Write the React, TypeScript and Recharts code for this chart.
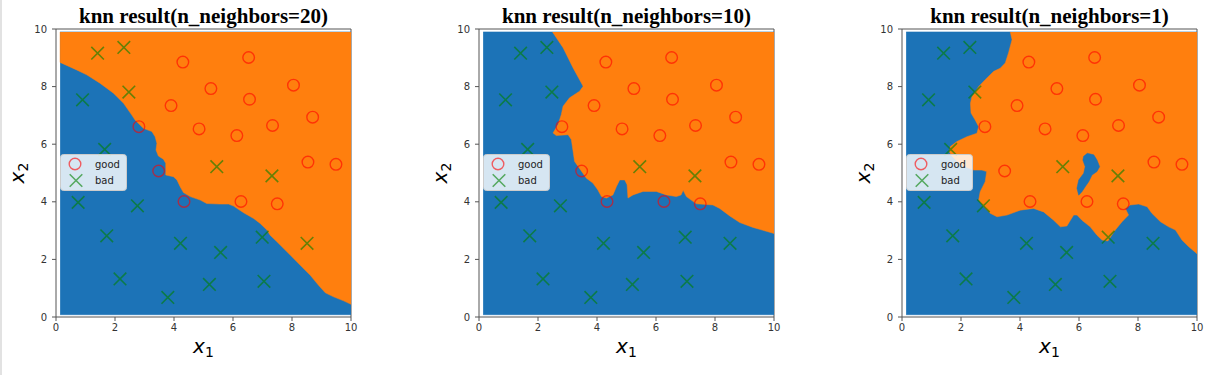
import React from "react";
import { ComposedChart, Scatter, XAxis, YAxis, Legend } from "recharts";

type Pair = [number, number];

// training samples
const goodX = [4.3, 6.53, 5.25, 8.05, 3.9, 6.56, 8.7, 2.81, 4.85, 7.34, 6.13, 3.48, 8.54, 9.49, 4.34, 6.27, 7.5];
const goodY = [8.85, 9.01, 7.93, 8.05, 7.34, 7.56, 6.94, 6.61, 6.53, 6.65, 6.3, 5.07, 5.38, 5.3, 4.01, 4.01, 3.93];
const badX = [1.41, 2.3, 0.9, 2.47, 1.65, 5.45, 7.32, 0.75, 2.76, 1.72, 4.22, 5.58, 6.99, 8.51, 2.17, 5.2, 7.05, 3.79];
const badY = [9.16, 9.36, 7.54, 7.81, 5.82, 5.22, 4.9, 3.98, 3.86, 2.82, 2.56, 2.24, 2.77, 2.56, 1.32, 1.13, 1.24, 0.68];

const ticks = [0, 2, 4, 6, 8, 10];
const neighbors = [20, 10, 1];
const panelLeft = [0, 423, 846];
const legendOrder = ["good", "bad"];

// extent of the predicted mesh
const meshBox: Pair[] = [[0.14, 0.08], [10, 0.08], [10, 9.9], [0.14, 9.9]];

// outline of the "good" (orange) region for each k
const goodRegionK20: Pair[] = [
  [0.14, 9.9], [0.14, 8.84], [0.7, 8.58], [1.04, 8.41], [1.49, 8.12], [1.95, 7.77], [2.29, 7.42],
  [2.57, 7.01], [2.68, 6.84], [2.96, 6.55], [3.25, 6.44], [3.36, 6.26], [3.42, 6.03], [3.39, 5.8],
  [3.47, 5.59], [3.64, 5.48], [3.72, 5.34], [3.72, 4.93], [3.98, 4.87], [4.1, 4.76], [4.21, 4.52],
  [4.32, 4.32], [4.55, 4.18], [4.89, 4.06], [5.11, 3.94], [5.57, 3.92], [5.85, 3.92], [6.02, 3.85],
  [6.36, 3.62], [6.7, 3.42], [6.92, 3.25], [7.15, 3.02], [7.26, 2.84], [7.49, 2.61], [7.94, 2.15],
  [8.28, 1.8], [8.62, 1.45], [8.9, 1.1], [9.13, 0.84], [9.41, 0.7], [9.75, 0.56], [10, 0.44], [10, 9.9],
];
const goodRegionK10: Pair[] = [
  [2.49, 9.9], [2.85, 9.35], [3.19, 8.65], [3.53, 8.01], [3.41, 7.84], [3.07, 7.61], [2.85, 7.32],
  [2.79, 7.03], [2.68, 6.68], [2.51, 6.39], [2.62, 6.3], [3.02, 6.33], [3.13, 6.16], [3.19, 5.75],
  [3.24, 5.4], [3.36, 5.23], [3.64, 4.82], [3.86, 4.65], [4.03, 4.41], [4.15, 4.18], [4.32, 4.13],
  [4.54, 4.24], [4.66, 4.53], [4.77, 4.76], [4.94, 4.76], [5.02, 4.59], [5.05, 4.13], [5.22, 4.24],
  [5.56, 4.36], [6.01, 4.36], [6.35, 4.24], [6.69, 4.18], [6.85, 4.24], [6.92, 4.4], [7.03, 4.18],
  [7.37, 3.93], [7.93, 3.89], [8.16, 3.77], [8.5, 3.51], [8.84, 3.28], [9.29, 3.11], [10, 2.9], [10, 9.9],
];
const goodRegionK1: Pair[] = [
  [3.67, 9.9], [3.73, 9.63], [3.61, 9.17], [3.5, 8.82], [3.33, 8.64], [3.11, 8.53], [2.82, 8.24],
  [2.6, 8.0], [2.37, 7.65], [2.32, 7.42], [2.34, 7.08], [2.48, 6.84], [2.6, 6.61], [2.54, 6.38],
  [2.2, 6.26], [1.86, 6.09], [1.64, 5.92], [1.6, 5.75], [1.67, 5.62], [1.98, 5.28], [2.43, 5.1],
  [2.71, 5.1], [2.87, 5.05], [2.82, 4.7], [2.65, 4.35], [2.6, 4.06], [2.77, 3.83], [2.99, 3.6],
  [3.22, 3.48], [3.56, 3.54], [4.01, 3.71], [4.46, 3.77], [4.8, 3.65], [5.14, 3.36], [5.37, 3.13],
  [5.59, 3.16], [5.71, 3.36], [5.82, 3.54], [5.93, 3.54], [6.1, 3.36], [6.38, 3.13], [6.61, 2.84],
  [6.78, 2.67], [6.98, 2.64], [7.23, 3.02], [7.46, 3.31], [7.68, 3.54], [7.57, 3.77], [7.74, 3.89],
  [8.02, 3.92], [8.31, 3.83], [8.47, 3.6], [8.76, 3.31], [9.04, 3.13], [9.27, 3.02], [9.49, 2.67],
  [9.72, 2.44], [10, 2.2], [10, 9.9],
];
// blue pocket inside the k=1 orange region
const badIslandK1: Pair[] = [
  [6.27, 5.69], [6.5, 5.63], [6.61, 5.45], [6.7, 5.22], [6.61, 5.05], [6.44, 4.93], [6.33, 4.7],
  [6.21, 4.52], [6.1, 4.35], [5.99, 4.23], [5.93, 4.47], [5.99, 4.76], [6.16, 4.99], [6.21, 5.22],
  [6.13, 5.45], [6.16, 5.59],
];

const regions = [[goodRegionK20], [goodRegionK10], [goodRegionK1]];
const islands = [[], [], [badIslandK1]];

const BLUE = "#1c73b7";
const ORANGE = "#ff7f0e";
const SPINE = "#555";

const toPoints = (arr: Pair[]) => arr.map(([x, y]) => ({ x, y }));
const goodPoints = goodX.map((x, i) => ({ x, y: goodY[i] }));
const badPoints = badX.map((x, i) => ({ x, y: badY[i] }));

const noDot = () => <g />;

const Ring = ({ cx, cy }: any) => (
  <circle cx={cx} cy={cy} r={5.8} fill="none" stroke="#ff0000" strokeOpacity={0.6} strokeWidth={1.4} />
);

const Cross = ({ cx, cy }: any) => {
  const s = 6.3;
  return (
    <path
      d={`M${cx - s},${cy - s}L${cx + s},${cy + s}M${cx - s},${cy + s}L${cx + s},${cy - s}`}
      stroke="#008000"
      strokeOpacity={0.6}
      strokeWidth={1.6}
      fill="none"
    />
  );
};

const XLabel = ({ viewBox }: any) => (
  <text x={viewBox.x + viewBox.width / 2} y={viewBox.y + 36} textAnchor="middle" fontFamily="DejaVu Sans" fill="#000">
    <tspan fontStyle="italic" fontSize={20}>x</tspan>
    <tspan fontSize={14} dy={4}>1</tspan>
  </text>
);

const YLabel = ({ viewBox }: any) => {
  const cx = viewBox.x + 8;
  const cy = viewBox.y + viewBox.height / 2;
  return (
    <text x={cx} y={cy} transform={`rotate(-90, ${cx}, ${cy})`} textAnchor="middle" fontFamily="DejaVu Sans" fill="#000">
      <tspan fontStyle="italic" fontSize={20}>x</tspan>
      <tspan fontSize={14} dy={4}>2</tspan>
    </text>
  );
};

const titleLabel = (k: number) => ({ viewBox }: any) => (
  <text
    x={viewBox.x + viewBox.width / 2}
    y={viewBox.y - 5}
    textAnchor="middle"
    fontFamily="'Liberation Serif', 'Times New Roman', serif"
    fontWeight="bold"
    fontSize={21}
    fill="#000"
  >
    {`knn result(n_neighbors=${k})`}
  </text>
);

const renderLegend = ({ payload }: any) => {
  const items = (payload || [])
    .filter((p: any) => legendOrder.includes(p.value))
    .sort((a: any, b: any) => legendOrder.indexOf(a.value) - legendOrder.indexOf(b.value));
  return (
    <svg width={67} height={37} style={{ display: "block" }}>
      <rect x={0.5} y={0.5} width={66} height={36} rx={3} fill="#fff" fillOpacity={0.82} stroke="#ccc" />
      {items.map((p: any, i: number) => {
        const cy = 10 + i * 16.5;
        return (
          <g key={p.value}>
            {p.value === "good" ? <Ring cx={15} cy={cy} /> : <Cross cx={16} cy={cy} />}
            <text x={35} y={cy + 3.5} fontFamily="DejaVu Sans" fontSize={10} fill="#222">
              {p.value}
            </text>
          </g>
        );
      })}
    </svg>
  );
};

const tickStyle = { fill: "#333", fontSize: 10, fontFamily: "DejaVu Sans" };

const Panel = ({ idx }: { idx: number }) => (
  <div style={{ position: "absolute", left: panelLeft[idx], top: 0 }}>
    <ComposedChart width={369} height={375} margin={{ top: 28, right: 17, bottom: 28, left: 16 }}>
      <XAxis
        dataKey="x"
        type="number"
        domain={[0, 10]}
        ticks={ticks}
        allowDataOverflow
        height={30}
        tickSize={4}
        tickMargin={3}
        tick={tickStyle}
        axisLine={{ stroke: SPINE }}
        tickLine={{ stroke: SPINE }}
        label={XLabel}
      />
      <XAxis
        xAxisId="top"
        orientation="top"
        dataKey="x"
        type="number"
        domain={[0, 10]}
        ticks={ticks}
        allowDataOverflow
        height={1}
        tick={false}
        tickLine={false}
        axisLine={{ stroke: SPINE }}
        label={titleLabel(neighbors[idx])}
      />
      <YAxis
        dataKey="y"
        type="number"
        domain={[0, 10]}
        ticks={ticks}
        allowDataOverflow
        width={40}
        tickSize={4}
        tickMargin={5}
        tick={tickStyle}
        axisLine={{ stroke: SPINE }}
        tickLine={{ stroke: SPINE }}
        label={YLabel}
      />
      <YAxis
        yAxisId="right"
        orientation="right"
        dataKey="y"
        type="number"
        domain={[0, 10]}
        ticks={ticks}
        allowDataOverflow
        width={1}
        tick={false}
        tickLine={false}
        axisLine={{ stroke: SPINE }}
      />
      <Scatter
        xAxisId="top"
        yAxisId="right"
        data={toPoints(meshBox)}
        shape={noDot}
        line={{ fill: BLUE, stroke: BLUE, strokeWidth: 0.5 }}
        legendType="none"
        isAnimationActive={false}
      />
      {regions[idx].map((r, i) => (
        <Scatter
          key={`r${i}`}
          data={toPoints(r)}
          shape={noDot}
          line={{ fill: ORANGE, stroke: ORANGE, strokeWidth: 0.5 }}
          legendType="none"
          isAnimationActive={false}
        />
      ))}
      {islands[idx].map((r, i) => (
        <Scatter
          key={`h${i}`}
          data={toPoints(r)}
          shape={noDot}
          line={{ fill: BLUE, stroke: BLUE, strokeWidth: 0.5 }}
          legendType="none"
          isAnimationActive={false}
        />
      ))}
      <Scatter name="good" data={goodPoints} shape={Ring} legendType="circle" isAnimationActive={false} />
      <Scatter name="bad" data={badPoints} shape={Cross} legendType="cross" isAnimationActive={false} />
      <Legend
        layout="horizontal"
        verticalAlign="middle"
        align="center"
        wrapperStyle={{ left: 60, top: 154, width: 67, height: 37 }}
        content={renderLegend}
      />
    </ComposedChart>
  </div>
);

export default function App() {
  return (
    <div
      style={{
        position: "fixed",
        left: 0,
        top: 0,
        width: 1215,
        height: 375,
        background: "#fff",
        overflow: "hidden",
      }}
    >
      <div style={{ position: "absolute", left: 0, top: 0, width: 2, height: 375, background: "#e2e2e2" }} />
      {neighbors.map((_, i) => (
        <Panel key={i} idx={i} />
      ))}
    </div>
  );
}
